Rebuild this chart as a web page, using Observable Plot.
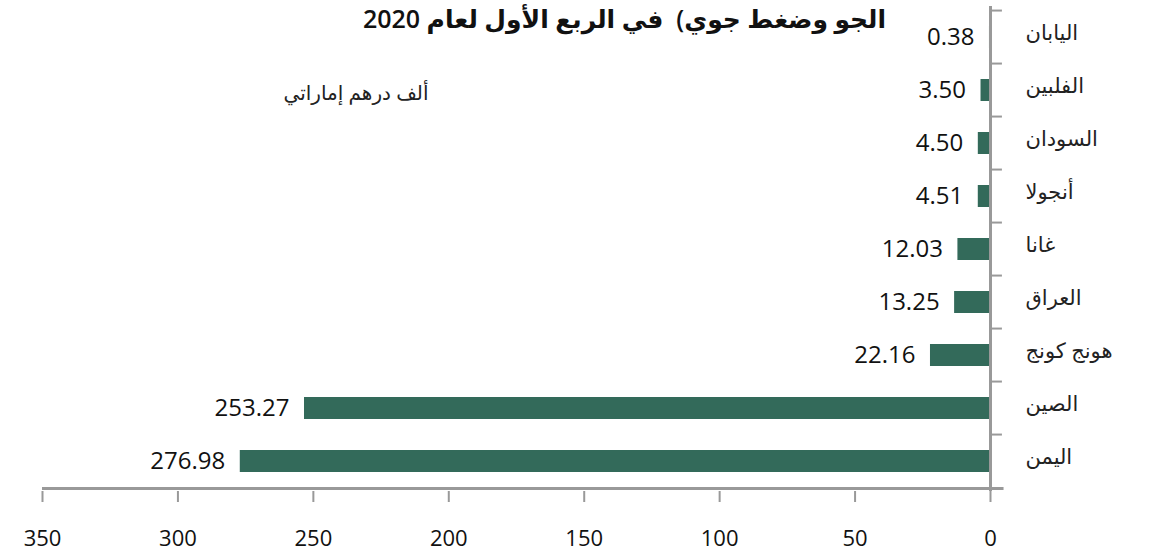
<!DOCTYPE html>
<html>
<head>
<meta charset="utf-8">
<script src="https://cdn.jsdelivr.net/npm/d3@7"></script>
<script src="https://cdn.jsdelivr.net/npm/@observablehq/plot@0.6"></script>
<style>
  html, body { margin: 0; padding: 0; background: #fff; }
  #chart svg { display: block; }
</style>
</head>
<body>
<div id="chart"></div>
<script>
const categories = ["اليابان", "الفلبين", "السودان", "أنجولا", "غانا", "العراق", "هونج كونج", "الصين", "اليمن"];
const values = [0.38, 3.50, 4.50, 4.51, 12.03, 13.25, 22.16, 253.27, 276.98];
const xTicks = [0, 50, 100, 150, 200, 250, 300, 350];
const titleText = "\u202Bالجو وضغط جوي)  في الربع الأول لعام 2020\u202C";
const unitText = "ألف درهم إماراتي";

const data = categories.map((c, i) => ({category: c, value: values[i]}));

const W = 1150, H = 555;
const mTop = 6, mBottom = 64, mLeft = 42, mRight = 160;
const step = (H - mTop - mBottom) / categories.length;
const axisColor = "#999999";
const barColor = "#336a5a";
const font = "'Open Sans', 'DejaVu Sans', sans-serif";

const chart = Plot.plot({
  width: W,
  height: H,
  marginTop: mTop,
  marginBottom: mBottom,
  marginLeft: mLeft,
  marginRight: mRight,
  style: {fontFamily: font, color: "#111", background: "#fff", overflow: "visible"},
  x: {domain: [0, 350], reverse: true, ticks: xTicks, label: null},
  y: {domain: categories, paddingInner: 0.59, paddingOuter: 0.295, label: null},
  marks: [
    Plot.barX(data, {y: "category", x: "value", fill: barColor}),
    Plot.text(data, {
      y: "category", x: "value", text: d => d.value.toFixed(2),
      textAnchor: "end", dx: -15, fontSize: 24, fill: "#111"
    }),
    // vertical axis line
    Plot.ruleX([0], {stroke: axisColor, strokeWidth: 3}),
    // category boundary ticks on the vertical axis
    Plot.ruleY(categories, {y: d => d, x1: 0, x2: -4.4, dy: -step / 2, stroke: axisColor, strokeWidth: 2}),
    Plot.ruleY([categories[categories.length - 1]], {y: d => d, x1: 0, x2: -4.4, dy: step / 2, stroke: axisColor, strokeWidth: 2}),
    // horizontal axis line
    Plot.ruleY([categories[categories.length - 1]], {y: d => d, x1: 350, x2: -5, dy: step / 2, stroke: axisColor, strokeWidth: 3}),
    Plot.axisX({
      ticks: xTicks, tickSize: 11, tickPadding: 28, fontSize: 22,
      stroke: axisColor, strokeWidth: 2, strokeOpacity: 1, label: null, fill: "#111"
    }),
    Plot.axisY({anchor: "right", tickSize: 0, tickPadding: 35, dy: -4, fontSize: 21, label: null, fill: "#222"}),
    Plot.text([titleText], {
      frameAnchor: "top", dx: 108, dy: 13, lineAnchor: "middle",
      fontSize: 25, fontWeight: 600, fill: "#111"
    }),
    Plot.text([unitText], {
      frameAnchor: "top-left", dx: 386, dy: 87, textAnchor: "end", lineAnchor: "middle",
      fontSize: 20, fill: "#222"
    })
  ]
});

document.getElementById("chart").appendChild(chart);
</script>
</body>
</html>
